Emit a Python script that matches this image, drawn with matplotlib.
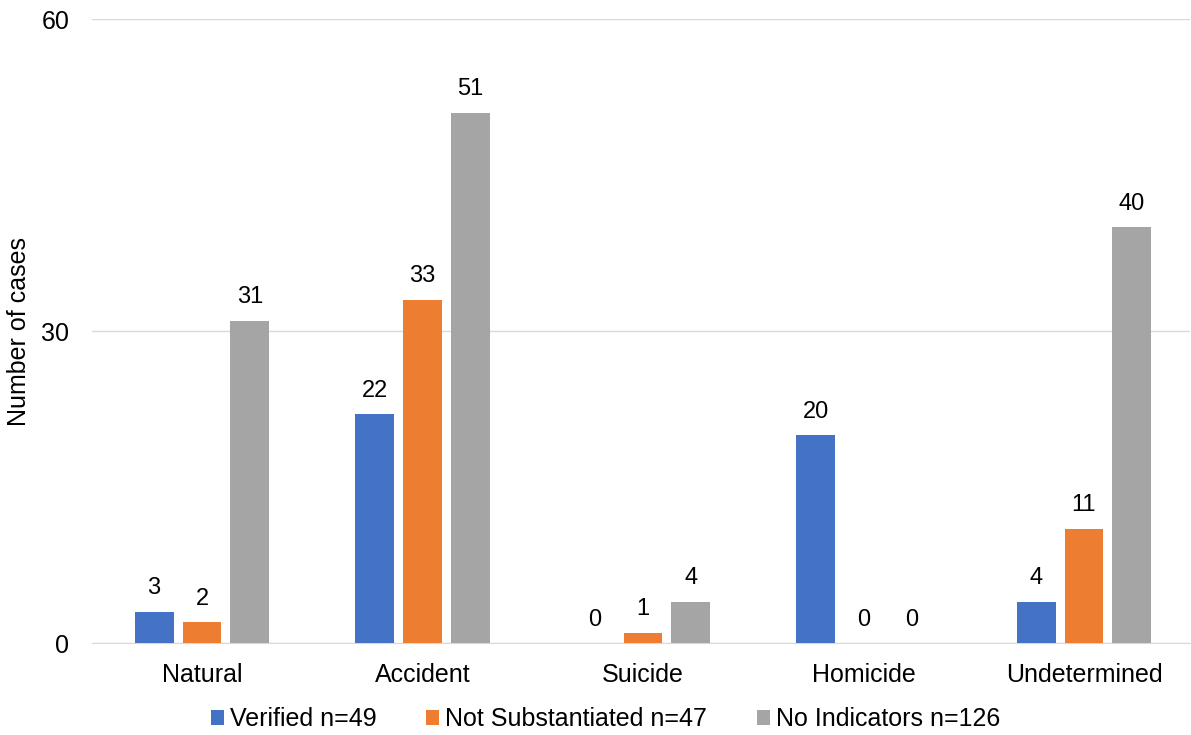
import matplotlib.pyplot as plt
import numpy as np

plt.rcParams['font.family'] = ['Liberation Sans', 'DejaVu Sans']

categories = ['Natural', 'Accident', 'Suicide', 'Homicide', 'Undetermined']
series_names = ['Verified n=49', 'Not Substantiated n=47', 'No Indicators n=126']
verified = [3, 22, 0, 20, 4]
not_subst = [2, 33, 1, 0, 11]
no_ind = [31, 51, 4, 0, 40]
colors = ['#4472C4', '#ED7D31', '#A5A5A5']

fig = plt.figure(figsize=(11.91, 7.35), dpi=100)
ax = fig.add_axes([0.077, 0.125, 0.922, 0.849])

x = np.arange(len(categories))
width = 0.176
offsets = [-0.217, 0, 0.217]

for vals, name, col, off in zip([verified, not_subst, no_ind], series_names, colors, offsets):
    bars = ax.bar(x + off, vals, width, color=col, label=name, zorder=3)
    for b, v in zip(bars, vals):
        ax.text(b.get_x() + b.get_width() / 2, v + 1.2, str(v),
                ha='center', va='bottom', fontsize=17, color='#000000')

ax.set_ylim(0, 60)
ax.set_yticks([0, 30, 60])
ax.set_xlim(-0.5, 4.48)
ax.set_xticks(x)
ax.set_xticklabels(categories)
ax.tick_params(axis='both', length=0, labelsize=18, colors='#000000')
ax.tick_params(axis='x', pad=14)
ax.tick_params(axis='y', pad=16)
ax.grid(axis='y', color='#d9d9d9', linewidth=1, zorder=0)
for s in ['top', 'right', 'left']:
    ax.spines[s].set_visible(False)
ax.spines['bottom'].set_color('#d9d9d9')
ax.set_ylabel('Number of cases', fontsize=18)
ax.yaxis.set_label_coords(-0.055, 0.5)

ax.legend(loc='center', bbox_to_anchor=(0.468, -0.122), ncol=3, frameon=False,
          fontsize=18, handlelength=0.5, handleheight=0.5, handletextpad=0.25,
          columnspacing=2.0)

fig.savefig('out.png', dpi=100)
